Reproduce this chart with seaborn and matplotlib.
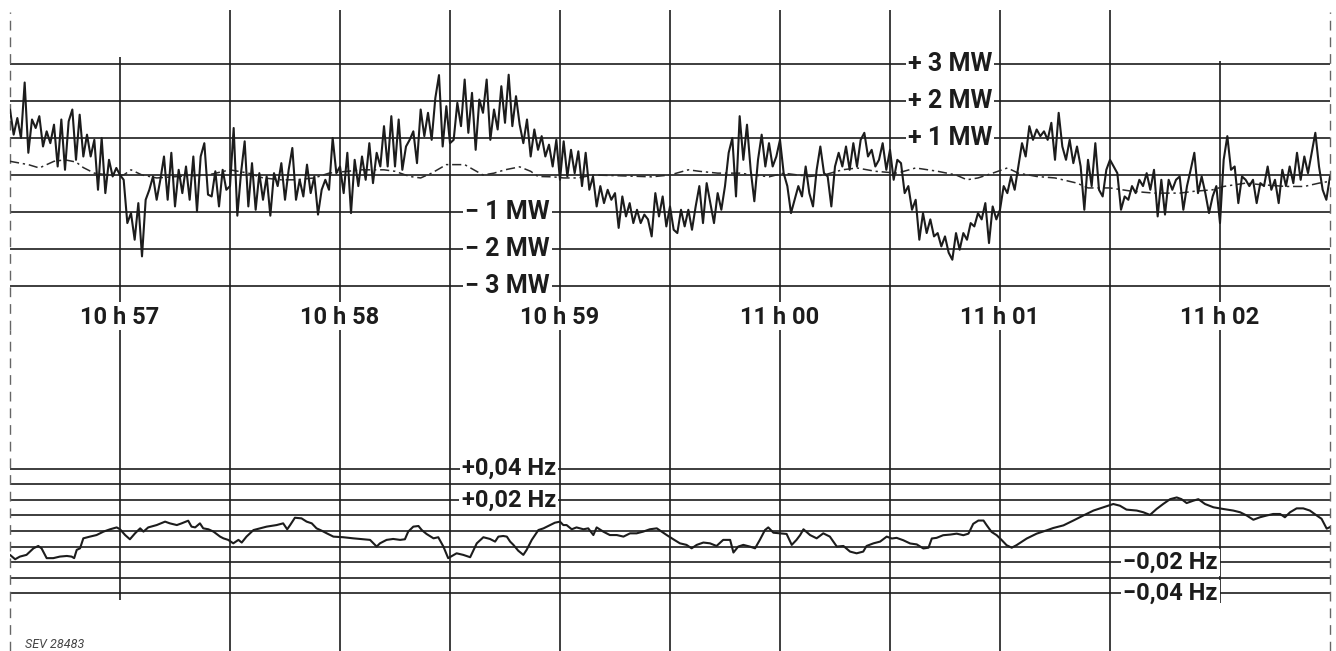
import numpy as np
import pandas as pd
import matplotlib
matplotlib.use("Agg")
import matplotlib.pyplot as plt
import seaborn as sns

# Recorder strip 10h56m30 .. 11h02m30, time in seconds from the left edge
# Power deviation (MW), one reading per second
mw_values = [
    1.77, 1.09, 1.54, 1.0, 2.5, 0.6, 1.5, 1.27, 1.59, 0.77, 1.18, 0.86, 1.36, 0.23, 1.5, 0.14, 1.45, 1.77, 0.41, 1.63,
    0.5, 1.09, 0.5, 0.95, -0.4, 1.0, -0.49, 0.41, -0.04, 0.19, 0.0, -0.13, -1.3, -1.03, -1.75, -0.76, -2.2, -0.67, -0.4, -0.04,
    -0.67, -0.13, 0.5, -0.67, 0.6, -0.85, 0.14, -0.49, 0.23, -0.67, 0.5, -0.98, 0.5, 0.86, -0.53, -0.58, 0.1, -0.85, 0.14, -0.4,
    -0.3, 1.27, -1.1, 0.05, 0.91, -0.85, 0.32, -0.94, 0.05, -0.67, -0.04, -1.1, 0.05, -0.3, 0.32, -0.67, 0.14, 0.73, -0.67, -0.13,
    -0.58, 0.28, -0.49, -0.04, -1.07, -0.4, -0.13, -0.4, 1.0, 0.05, 0.23, -0.49, 0.6, -1.03, 0.41, -0.3, 0.5, -0.13, 0.86, -0.22,
    0.6, 0.23, 1.32, 0.23, 1.59, 0.23, 1.5, 0.14, 0.77, 0.95, 1.18, 0.32, 1.77, 1.05, 1.68, 0.95, 2.08, 2.7, 0.77, 1.86,
    0.86,
    0.95, 1.95, 1.32, 2.58, 1.14, 2.22, 0.68, 2.04, 1.68, 2.58, 0.95, 1.77, 1.23, 2.4, 1.41, 2.71, 1.32, 2.13, 1.36, 0.86,
    1.5, 0.5, 1.23, 0.68, 1.05, 0.5, 0.82, 0.23, 0.95, -0.13, 0.91, -0.04, 0.68, 0.05, 0.64, -0.3, 0.6, -0.4, -0.04, -0.85,
    -0.3, -0.76, -0.4, -0.67, -0.49, -1.43, -0.58, -1.12, -0.76, -1.3, -0.94, -1.3, -1.07, -1.2, -1.66, -0.49, -1.12, -0.58, -1.39, -0.85, -1.48,
    -1.57, -0.94, -1.39, -0.94, -1.48, -0.85, -0.3, -1.3, -0.22, -0.76, -1.3, -0.49, -0.94, -0.3, 0.6, 1.0, -0.58, 1.59, 0.41, 1.36,
    0.14, -0.71, 0.41, 1.09, 0.23, 0.86, 0.23, 0.5, 0.95, 0.05, -0.3, -1.03, -0.67, -0.3, -0.58, 0.23, -0.49, -0.85, 0.14, 0.77,
    0.05, -0.04, -0.85, 0.23, 0.6, 0.23, 0.77, 0.14, 0.86, 0.23, 0.95, 1.14, 0.5, 0.68, 0.23, 0.41, 0.86, 0.14, 0.68, -0.13,
    0.41, 0.32, -0.49, -0.3, -0.94, -0.67, -1.75, -1.03, -1.57, -1.2, -1.66, -1.57, -1.93, -1.66, -2.1, -2.29, -1.57, -2.02, -1.57, -1.75,
    -1.3, -1.39, -1.03, -1.2, -0.76, -1.84, -0.85, -1.2, -0.94, -0.3, -0.49, -0.04, -0.4, 0.23, 0.86, 0.5, 1.32, 0.95, 1.23, 1.05,
    1.18, 0.95, 1.41, 0.41, 1.68, 0.77, 0.41, 0.95, 0.32, 0.77, 0.23, -0.94, 0.41, -0.3, 0.86, -0.4, -0.58, 0.14, 0.41, 0.23,
    0.05, -0.94, -0.58, -0.67, -0.3, -0.49, -0.13, -0.3, 0.05, -0.4, 0.14, -1.12, -0.13, -1.07, -0.13, -0.4, -0.13, -0.04, -0.94, -0.3,
    0.14, 0.6, -0.49, -0.04, -0.49, -1.03, -0.58, -0.3, -1.3, 0.41, 1.05, 0.14, 0.23, -0.76, -0.04, -0.13, -0.3, -0.13, -0.76, -0.22,
    -0.3, 0.23, -0.4, -0.13, -0.76, 0.14, -0.3, 0.23, -0.22, 0.6, -0.13, 0.5, 0.05, 0.6, 1.14, 0.23, -0.4, -0.67, -0.04,
]
mw_time = np.arange(len(mw_values))

# smooth dash-dot trace (MW)
ref_time = [0, 5, 8, 12, 15, 18, 20, 23, 27, 31, 33, 36, 40, 46, 54, 60, 65, 69, 74, 78, 83, 87, 92, 96, 102,
            105, 109, 112, 115, 119, 124, 129, 132, 135, 139, 142, 144, 148, 151, 155, 159, 166, 175, 180, 185,
            188, 193, 199, 203, 207, 211, 218, 222, 227, 231, 236, 242, 247, 253, 258, 261, 264, 268, 272, 275,
            280, 285, 291, 294, 300, 306, 312, 319, 323, 328, 331, 337, 341, 348, 353, 357, 360]
ref_values = [0.37, 0.28, 0.19, 0.37, 0.41, 0.35, 0.2, 0.05, 0.0, 0.0, 0.14, 0.0, -0.08, -0.04, 0.0, 0.14, 0.05, -0.08,
              -0.13, -0.13, -0.08, 0.05, 0.1, 0.14, 0.14, 0.1, -0.04, -0.08, 0.05, 0.28, 0.28, 0.0, 0.05, 0.14, 0.22,
              0.1, -0.04, -0.05, -0.08, -0.08, 0.0, -0.02, -0.05, 0.0, 0.14, 0.1, 0.05, 0.05, 0.0, -0.05, 0.05, -0.04,
              0.0, 0.14, 0.19, 0.1, 0.05, 0.19, 0.1, 0.0, -0.13, -0.08, 0.05, 0.19, 0.05, -0.04, -0.08, -0.22, -0.35,
              -0.35, -0.44, -0.49, -0.49, -0.44, -0.4, -0.31, -0.22, -0.26, -0.31, -0.31, -0.22, -0.17]

# frequency deviation (Hz)
hz_time = [0, 1.4, 2.7, 4.5, 6.4, 7.7, 8.6, 10, 11.8, 13.6, 15.5, 16.8, 17.5, 18.2, 19.1, 20, 21.8, 23.6, 25.5, 27.3,
           29.1, 30, 31.4, 32.7, 34.1, 35.5, 36.4, 37.7, 40, 42.3, 43.6, 45.5, 46.8, 48.6, 49.5, 50.5, 51.8, 52.7,
           54.1, 55.5, 57.3, 58.2, 59.5, 60.9, 62.3, 63.2, 64.5, 66.4, 68.2, 70, 72.7, 74.5, 75.6, 76.4, 77.7, 79.5,
           80.9, 82.3, 83.6, 85, 86.4, 88.2, 90.9, 93.6, 96.4, 98.2, 100, 100.9, 102.7, 104.5, 106.4, 107.7, 108.6,
           110, 111.4, 112.3, 113.6, 115.5, 116.8, 118.2, 119.5,
           121.8, 123.6, 125.5, 127.3, 129.1, 130.9, 132.3, 133.2, 134.5, 135.5, 136.4, 137.3, 138.6, 140, 140.9,
           142.3, 144.1, 145.5, 147.3, 148.6, 150, 150.9, 151.8, 153.2, 154.5, 156.4, 157.7, 159.1, 160, 161.8,
           163.6, 165.5, 167.3, 169.1, 170.9, 172.7, 174.5, 176.4, 177.7, 179.1, 180.9, 182.7, 184.5, 185.9, 187.3,
           189.1, 190.9, 192.7, 194.5, 196.4, 197.3, 198.6, 200, 201.8, 203.2, 204.5, 205.9, 206.8, 208.2, 210,
           211.8, 213.2, 214.5, 215.5, 216.4, 218.2, 220, 221.8, 223.6, 225.5, 227.3, 229.1, 230.9, 232.7, 233.6,
           235.5, 237.3, 239.1,
           240.5, 241.8, 243.6, 245.5, 247.3, 249.1, 250.5, 251.4, 252.7, 254.5, 256.4, 258.2, 260, 261.4, 262.7,
           264.1, 265.5, 266.4, 267.7, 269.1, 270.5, 271.8, 273.2, 274.5, 277.3, 280, 282.7, 284.5, 287.3, 290,
           292.7, 295.5, 298.2, 300.9, 302.7, 304.5, 307.3, 309.1, 310.9, 312.7, 314.5, 316.4, 318.2, 319.5, 320.9,
           322.7, 324.1, 325.9, 328.2, 330.9, 333.6, 335.5, 337.3, 339.1, 340.9, 342.7, 344.5, 346.4, 347.7, 349.1,
           350.9, 352.7, 354.5, 356.4, 357.7, 359.1, 360]
hz_values = [-0.0153, -0.0181, -0.0164, -0.0153, -0.0111, -0.0096, -0.0111, -0.0174, -0.0174, -0.0164, -0.016,
             -0.0164, -0.0174, -0.0121, -0.0111, -0.0047, -0.0036, -0.0026, -0.0004, 0.0011, 0.0023, 0.0011,
             -0.0026, -0.0053, -0.0015, 0.0017, -0.0004, 0.0023, 0.0038, 0.006, 0.0049, 0.0038, 0.0049, 0.0066,
             0.0028, 0.0023, 0.0049, 0.0017, 0.0011, -0.0004, -0.0036, -0.0047, -0.0057, -0.0079, -0.0057, -0.0074,
             -0.0036, 0.0006, 0.0017, 0.0028, 0.0038, 0.0049, 0.0011, 0.0038, 0.0085, 0.0081, 0.006, 0.0049, 0.0017,
             0.0002, -0.0015, -0.0036, -0.004, -0.0047, -0.0053, -0.0057, -0.01, -0.0079, -0.0057, -0.0051, -0.0057,
             -0.0053, -0.0004, 0.0028, 0.0032, 0.0006, -0.0019, -0.0047, -0.004, -0.01, -0.0174,
             -0.0143, -0.0153, -0.0168, -0.0079, -0.004, -0.0051, -0.0068, -0.0036, -0.0032, -0.0036, -0.0068,
             -0.0089, -0.0126, -0.0153, -0.0121, -0.0057, 0.0006, 0.0017, 0.0038, 0.0053, 0.006, 0.0038, 0.0038,
             0.0011, 0.0023, 0.0011, 0.0017, -0.0026, 0.0023, -0.0004, -0.0026, -0.0026, -0.0036, -0.0015, -0.0015,
             -0.0004, 0.0011, 0.0017, -0.0004, -0.0026, -0.0053, -0.0079, -0.0089, -0.0111, -0.0089, -0.0074,
             -0.0079, -0.0096, -0.0057, -0.0057, -0.0138, -0.01, -0.0089, -0.01, -0.0111, -0.0057, 0.0006, 0.0023,
             -0.0011, -0.0015, -0.0019, -0.0089, -0.0057, -0.0026, 0.0011, -0.0026, -0.0047, -0.0015, -0.0036,
             -0.01, -0.0096, -0.0132, -0.0143, -0.0132, -0.0096, -0.0079, -0.0068, -0.0036,
             -0.0048, -0.0044, -0.0059, -0.008, -0.0086, -0.0112, -0.0107, -0.0048, -0.0044, -0.0027, -0.0023,
             -0.0017, -0.0027, -0.0017, 0.0046, 0.0067, 0.0067, 0.0036, -0.0006, -0.0027, -0.0059, -0.0091, -0.0107,
             -0.0091, -0.0048, -0.0017, 0.0004, 0.0019, 0.0036, 0.0067, 0.0099, 0.0131, 0.0152, 0.0173, 0.0162,
             0.0137, 0.0131, 0.012, 0.0103, 0.0141, 0.0173, 0.0204, 0.0215, 0.0204, 0.0179, 0.0194, 0.0204, 0.0173,
             0.0152, 0.0141, 0.0131, 0.012, 0.0099, 0.0072, 0.0088, 0.0099, 0.0109, 0.0109, 0.0088, 0.012, 0.0145,
             0.0145, 0.0131, 0.0099, 0.0078, 0.0015, 0.0025]

minute_times = [30, 90, 150, 210, 270, 330]
minute_labels = ["10 h 57", "10 h 58", "10 h 59", "11 h 00", "11 h 01", "11 h 02"]
half_times = [60, 120, 180, 240, 300]
mw_levels = [3, 2, 1, 0, -1, -2, -3]
mw_plus_labels = ["+ 3 MW", "+ 2 MW", "+ 1 MW"]
mw_minus_labels = ["\u2212 1 MW", "\u2212 2 MW", "\u2212 3 MW"]
hz_levels = [0.04, 0.03, 0.02, 0.01, 0.0, -0.01, -0.02, -0.03, -0.04]
hz_plus_labels = ["+0,04 Hz", "+0,02 Hz"]
hz_minus_labels = ["\u22120,02 Hz", "\u22120,04 Hz"]

sns.set_theme(style="white")
plt.rcParams['font.family'] = ['Roboto', 'DejaVu Sans']

INK = "#1c1c1c"
W, H = 1336, 651
fig = plt.figure(figsize=(W / 100, H / 100), dpi=100)
fig.patch.set_facecolor("white")

ax1 = fig.add_axes([10 / W, 1 - 330 / H, 1320 / W, 330 / H])
ax2 = fig.add_axes([10 / W, 0, 1320 / W, 321 / H])

# grid of the recorder paper
ax1.hlines(mw_levels, 0, 360, color=INK, lw=1.2, zorder=1)
ax2.hlines(hz_levels, 0, 360, color=INK, lw=1.2, zorder=1)
ax1.vlines(half_times + [90, 150, 210, 270], -4.19, 4.46, color=INK, lw=1.2, zorder=1)
ax1.vlines([30], -4.19, 3.19, color=INK, lw=1.2, zorder=1)
ax1.vlines([330], -4.19, 3.08, color=INK, lw=1.2, zorder=1)
ax2.vlines(half_times + [90, 150, 210, 270], -0.0769, 0.1288, color=INK, lw=1.2, zorder=1)
ax2.vlines([30], -0.0442, 0.1288, color=INK, lw=1.2, zorder=1)
ax2.vlines([330], -0.0462, 0.1288, color=INK, lw=1.2, zorder=1)

# dashed paper edges
for x in (0, 360):
    ax1.vlines([x], -4.19, 4.4, color="#666666", lw=1.0, linestyles=(0, (7, 5)), clip_on=False)
    ax2.vlines([x], -0.0769, 0.1288, color="#666666", lw=1.0, linestyles=(0, (7, 5)), clip_on=False)

# traces
df_mw = pd.DataFrame({"t": mw_time, "mw": mw_values})
df_ref = pd.DataFrame({"t": ref_time, "mw": ref_values})
df_hz = pd.DataFrame({"t": hz_time, "hz": hz_values})
sns.lineplot(data=df_mw, x="t", y="mw", ax=ax1, color=INK, lw=1.5, estimator=None, sort=False, zorder=3)
sns.lineplot(data=df_ref, x="t", y="mw", ax=ax1, color="#2a2a2a", lw=1.1, estimator=None, sort=False,
             linestyle=(0, (6, 2.5, 1.5, 2.5)), zorder=2)
sns.lineplot(data=df_hz, x="t", y="hz", ax=ax2, color=INK, lw=1.5, estimator=None, sort=False, zorder=3)
for ax in (ax1, ax2):
    ax.set_xlim(0, 360)
    ax.axis("off")
ax1.set_ylim(-4.19, 4.73)
ax2.set_ylim(-0.0769, 0.1288)

box = dict(facecolor="white", edgecolor="none", pad=1.5)
for lvl, lab in zip([3, 2, 1], mw_plus_labels):
    ax1.text(267.8, lvl, lab, ha="right", va="center", fontsize=18, fontweight="bold",
             color=INK, bbox=box, zorder=5)
for lvl, lab in zip([-1, -2, -3], mw_minus_labels):
    ax1.text(147.3, lvl, lab, ha="right", va="center", fontsize=18, fontweight="bold",
             color=INK, bbox=box, zorder=5)
for t, lab in zip(minute_times, minute_labels):
    ax1.text(t, -3.86, lab, ha="center", va="center", fontsize=17, fontweight="bold",
             color=INK, bbox=dict(facecolor="white", edgecolor="none", pad=3), zorder=5)
for lvl, lab in zip([0.04, 0.02], hz_plus_labels):
    ax2.text(148.9, lvl, lab, ha="right", va="center", fontsize=17, fontweight="bold",
             color=INK, bbox=box, zorder=5)
for lvl, lab in zip([-0.02, -0.04], hz_minus_labels):
    ax2.text(329.4, lvl, lab, ha="right", va="center", fontsize=17, fontweight="bold",
             color=INK, bbox=box, zorder=5)

fig.text(25 / W, 1 - 645 / H, "SEV 28483", fontsize=9, style="italic", color="#444444",
         ha="left", va="center")

fig.savefig("out.png", dpi=100, facecolor="white")
